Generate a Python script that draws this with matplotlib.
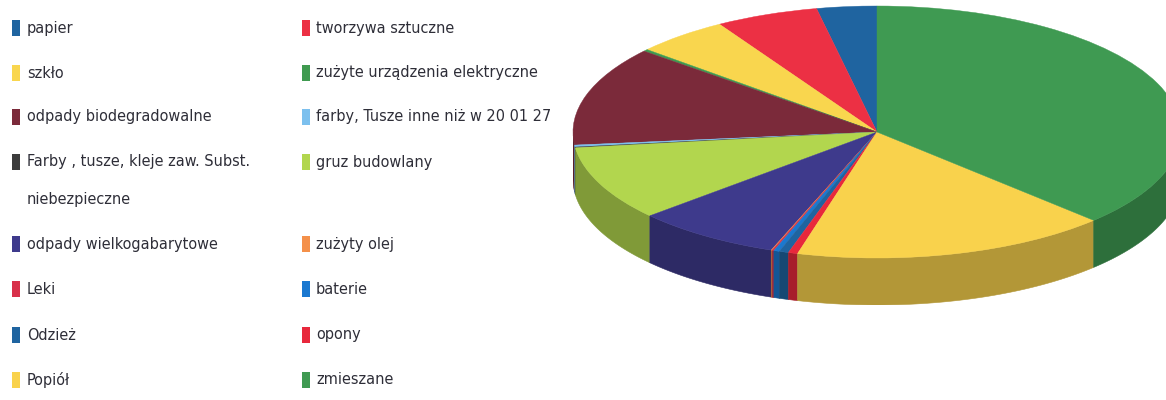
import numpy as np
import matplotlib
matplotlib.use("Agg")
import matplotlib.pyplot as plt
from matplotlib.colors import to_rgb
from matplotlib.patches import Rectangle
from matplotlib import font_manager as fm

# ---- data ----
categories = [
    "papier", "tworzywa sztuczne", "szkło", "zużyte urządzenia elektryczne",
    "odpady biodegradowalne", "farby, Tusze inne niż w 20 01 27",
    "Farby , tusze, kleje zaw. Subst.\nniebezpieczne", "gruz budowlany",
    "odpady wielkogabarytowe", "zużyty olej", "Leki", "baterie",
    "Odzież", "opony", "Popiół", "zmieszane",
]
values = [3.2, 5.5, 5.0, 0.25, 12.8, 0.25, 0.1, 9.6, 7.8, 0.05, 0.1, 0.3,
          0.5, 0.5, 16.9, 37.5]
colors = ["#1f64a0", "#ec3044", "#f9d64e", "#3f9a50", "#7b2a3a", "#7cc0ee",
          "#3c3c3c", "#b2d64e", "#3e3a8c", "#f4904a", "#d8304a", "#1a78d0",
          "#1f64a0", "#e8283c", "#f9d24c", "#3f9a52"]

# ---- figure ----
W, H = 1166, 400
fig = plt.figure(figsize=(W / 100, H / 100), dpi=100)
fig.patch.set_facecolor("white")

# pie geometry in pixels
cx, cy, rx, ry, depth = 877, 132, 304, 126, 47
d = depth / ry
ax = fig.add_axes([(cx - rx) / W, (H - (cy + ry + depth)) / H,
                   2 * rx / W, (2 * ry + depth) / H])

wedges, _ = ax.pie(values, colors=colors, startangle=90, counterclock=True,
                   radius=1, center=(0, 0),
                   wedgeprops=dict(linewidth=0.3))
for w, c in zip(wedges, colors):
    w.set_edgecolor(c)
    w.set_zorder(3)

# side walls (front half of the disc)
for w, c in zip(wedges, colors):
    a, b = max(w.theta1, 180), min(w.theta2, 360)
    if a < b:
        t = np.radians(np.linspace(a, b, 60))
        xs = np.concatenate([np.cos(t), np.cos(t[::-1])])
        ys = np.concatenate([np.sin(t), np.sin(t[::-1]) - d])
        side = tuple(np.array(to_rgb(c)) * 0.72)
        ax.fill(xs, ys, color=side, linewidth=0.4, edgecolor=side, zorder=2)

ax.set_aspect("auto")
ax.set_xlim(-1, 1)
ax.set_ylim(-1 - d, 1)
ax.axis("off")

# ---- font choice: prefer a narrow face ----
def pick_font():
    names = {f.name: f for f in fm.fontManager.ttflist}
    if "Liberation Sans Narrow" in names:
        return fm.FontProperties(family="Liberation Sans Narrow")
    for f in fm.fontManager.ttflist:
        if f.name == "DejaVu Sans" and str(f.stretch) in ("condensed", "semi-condensed") \
                and f.style == "normal" and f.weight in (400, "normal", "regular"):
            return fm.FontProperties(fname=f.fname)
    if "Roboto" in names:
        return fm.FontProperties(family="Roboto")
    return fm.FontProperties(family="DejaVu Sans")

fp = pick_font()
renderer = fig.canvas.get_renderer()

# size the font so that a reference label has its width from the picture
probe = fig.text(0, 0, "odpady biodegradowalne", fontproperties=fp, fontsize=20)
w20 = probe.get_window_extent(renderer).width
probe.remove()
fsize = 20 * 184 / w20

# line step for the two-line label
p1 = fig.text(0, 0, "Ag", fontproperties=fp, fontsize=fsize, linespacing=1.0)
p2 = fig.text(0, 0, "Ag\nAg", fontproperties=fp, fontsize=fsize, linespacing=1.0)
step = p2.get_window_extent(renderer).height - p1.get_window_extent(renderer).height
p1.remove(); p2.remove()
lsp = 37.0 / step * 1.15

# ---- legend (two columns, row-major) ----
row_y = [28, 73, 117, 162, 244, 289, 335, 380]  # text centre, px from top
col_marker_x = [12, 302]
col_text_x = [27, 316]
for i, (lab, c) in enumerate(zip(categories, colors)):
    r, col = divmod(i, 2)
    y = row_y[r]
    fig.patches.append(Rectangle((col_marker_x[col] / W, (H - y - 8) / H),
                                 8 / W, 16 / H, transform=fig.transFigure,
                                 facecolor=c, edgecolor="none"))
    nl = lab.count("\n")
    fig.text(col_text_x[col] / W, (H - y - nl * 37 / 2) / H, lab,
             fontproperties=fp, fontsize=fsize, color="#2e2e38",
             va="center", ha="left", linespacing=lsp if nl else 1.0)

fig.savefig("out.png", dpi=100, facecolor="white")
